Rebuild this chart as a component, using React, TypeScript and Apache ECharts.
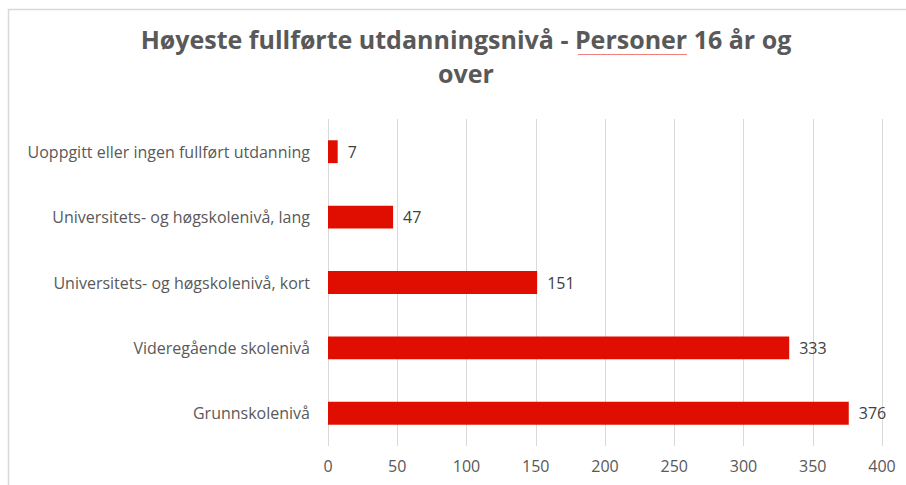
import React, { useEffect, useRef } from "react";
import * as echarts from "echarts";

const categories = [
  "Uoppgitt eller ingen fullført utdanning",
  "Universitets- og høgskolenivå, lang",
  "Universitets- og høgskolenivå, kort",
  "Videregående skolenivå",
  "Grunnskolenivå",
];
const values = [7, 47, 151, 333, 376];
const titleText = "Høyeste fullførte utdanningsnivå - Personer 16 år og\nover";

const FONT = "Open Sans";

export default function App() {
  const ref = useRef<HTMLDivElement>(null);
  useEffect(() => {
    document.body.style.margin = "0";
    const chart = echarts.init(ref.current!, null, { renderer: "svg" });
    chart.setOption({
      animation: false,
      backgroundColor: "#ffffff",
      graphic: [
        {
          type: "rect",
          shape: { x: 8.5, y: 9.5, width: 920, height: 500 },
          style: { fill: "none", stroke: "#d9d9d9", lineWidth: 1.5 },
          silent: true,
        },
        {
          type: "text",
          x: 466,
          y: 22,
          style: {
            text: titleText,
            align: "center",
            verticalAlign: "top",
            fontFamily: FONT,
            fontWeight: "bold",
            fontSize: 25,
            lineHeight: 34,
            fill: "#595959",
          },
          silent: true,
        },
        {
          type: "line",
          shape: { x1: 578, y1: 54.5, x2: 687, y2: 54.5 },
          style: { stroke: "#f08080", lineWidth: 1 },
          silent: true,
        },
      ],
      grid: { left: 328, right: 24, top: 119, bottom: 39 },
      xAxis: {
        type: "value",
        min: 0,
        max: 400,
        interval: 50,
        axisLine: { show: false },
        axisTick: { show: false },
        splitLine: { lineStyle: { color: "#d9d9d9", width: 1 } },
        axisLabel: {
          color: "#595959",
          fontSize: 16,
          fontFamily: FONT,
          margin: 12,
        },
      },
      yAxis: {
        type: "category",
        data: categories,
        inverse: true,
        axisLine: { show: false },
        axisTick: { show: false },
        axisLabel: {
          color: "#595959",
          fontSize: 16,
          fontFamily: FONT,
          margin: 18,
        },
      },
      series: [
        {
          type: "bar",
          data: values,
          barWidth: "35%",
          itemStyle: { color: "#e00e00" },
          label: {
            show: true,
            position: "right",
            distance: 10,
            color: "#404040",
            fontSize: 16,
            fontFamily: FONT,
          },
        },
      ],
    });
    return () => chart.dispose();
  }, []);
  return <div ref={ref} style={{ width: 906, height: 485 }} />;
}
